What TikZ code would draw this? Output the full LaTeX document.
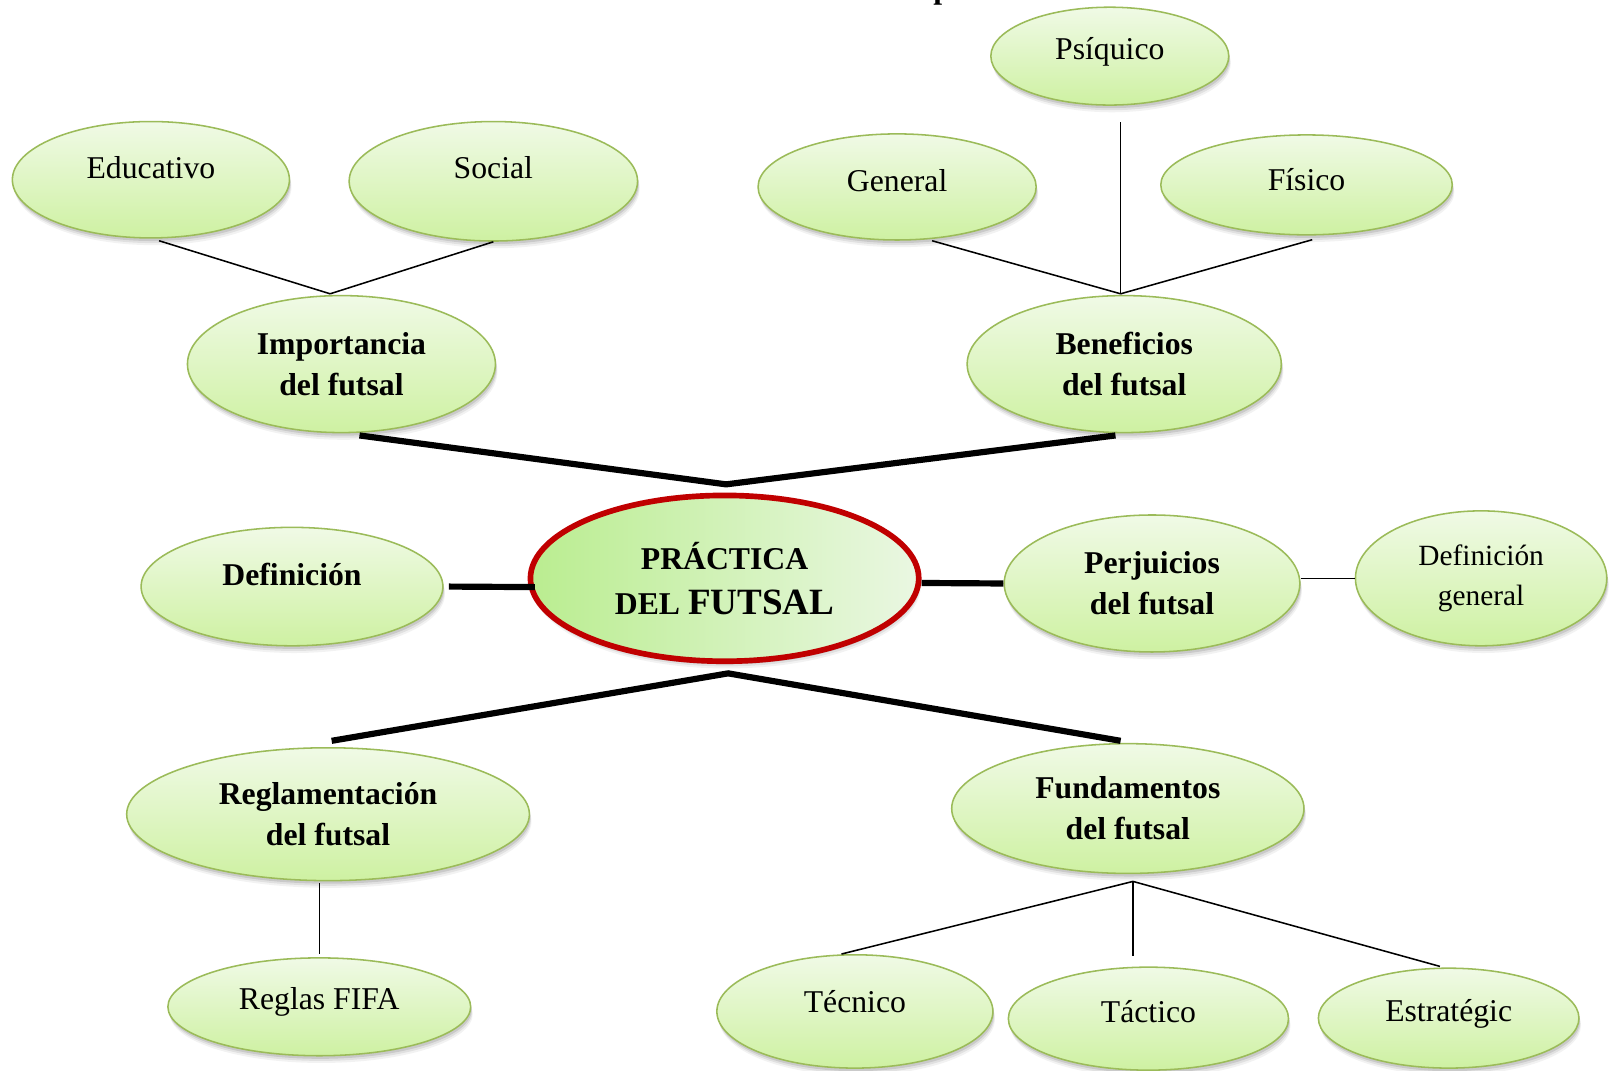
\documentclass[tikz,border=0pt]{standalone}
\usepackage{fontspec}
\setmainfont{Liberation Serif}
\usetikzlibrary{calc,shapes.geometric}

\definecolor{leafTop}{RGB}{240,250,230}
\definecolor{leafBot}{RGB}{206,241,162}
\definecolor{leafLine}{RGB}{155,187,89}
\definecolor{coreLeft}{RGB}{186,237,144}
\definecolor{coreRight}{RGB}{234,247,226}
\definecolor{coreLine}{RGB}{192,0,0}

% raise a one-line label inside its ellipse without changing the box size
\newcommand\liftby[2]{\raisebox{#1pt}[\height][\depth]{#2}}

\tikzset{
  softshadow/.style={
    preaction={fill=black,opacity=0.10,transform canvas={xshift=1pt,yshift=-3pt}},
    preaction={fill=black,opacity=0.07,transform canvas={xshift=1.5pt,yshift=-5pt}},
    preaction={fill=black,opacity=0.05,transform canvas={xshift=2pt,yshift=-7pt}}},
  leaf/.style={ellipse,inner sep=0pt,softshadow,draw=leafLine,line width=1.5pt,
    top color=leafTop,bottom color=leafBot,align=center,
    font=\fontsize{30.8}{40}\selectfont},
  branch/.style={leaf,font=\fontsize{30.8}{40}\selectfont\bfseries},
  core/.style={ellipse,inner sep=0pt,softshadow,draw=coreLine,line width=5.5pt,
    left color=coreLeft,right color=coreRight,align=center,
    font=\fontsize{30.8}{44}\selectfont\bfseries},
  thin/.style={draw=black,line width=1.5pt},
  thick/.style={draw=black,line width=6pt}
}

\begin{document}
\begin{tikzpicture}[x=1pt,y=-1pt]
\useasboundingbox (0,0) rectangle (1568,1039);
\clip (0,0) rectangle (1568,1039);
\fill[white] (0,0) rectangle (1568,1039);

% heading line above the chart (only its descender lies inside the frame)
\node[anchor=base west,inner sep=0pt,font=\fontsize{30.8}{40}\selectfont\bfseries] (head) at (906,-1) {p};

% central idea
\node[core,minimum width=377pt,minimum height=161pt] (pr) at (703.5,561.5)
  {PRÁCTICA\\DEL {\fontsize{36}{44}\selectfont FUTSAL}};

% main branches
\node[branch,minimum width=299pt,minimum height=133pt] (imp) at (331.5,353.5) {Importancia\\del futsal};
\node[branch,minimum width=305pt,minimum height=133pt] (ben) at (1091.5,353.5) {Beneficios\\del futsal};
\node[branch,minimum width=293pt,minimum height=115pt] (def) at (283.5,569.5) {\liftby{12}{Definición}};
\node[branch,minimum width=287pt,minimum height=133pt] (per) at (1118.5,566.5) {Perjuicios\\del futsal};
\node[branch,minimum width=391pt,minimum height=129pt] (reg) at (318.5,790.5) {Reglamentación\\del futsal};
\node[branch,minimum width=342pt,minimum height=126pt] (fun) at (1095,785) {Fundamentos\\del futsal};

% sub-topics
\node[leaf,minimum width=269pt,minimum height=113pt] (edu) at (146.5,174.5) {\liftby{12}{Educativo}};
\node[leaf,minimum width=280pt,minimum height=116pt] (soc) at (479,176) {\liftby{13}{Social}};
\node[leaf,minimum width=231pt,minimum height=95pt] (psi) at (1077.5,54.5) {\liftby{4}{Psíquico}};
\node[leaf,minimum width=270pt,minimum height=103pt] (gen) at (871,181.5) {\liftby{6}{General}};
\node[leaf,minimum width=283pt,minimum height=97pt] (fis) at (1268.5,179.5) {\liftby{5}{Físico}};
\node[leaf,minimum width=244pt,minimum height=131pt,font=\fontsize{28.5}{38}\selectfont] (dg) at (1438,561.5) {Definición\\general};
\node[leaf,minimum width=294pt,minimum height=95pt] (rf) at (310,977.5) {\liftby{5}{Reglas FIFA}};
\node[leaf,minimum width=268pt,minimum height=110pt] (tec) at (830,982) {\liftby{10}{Técnico}};
\node[leaf,minimum width=272pt,minimum height=100pt] (tac) at (1115,989) {\liftby{7}{Táctico}};
\node[leaf,minimum width=253pt,minimum height=97pt] (est) at (1406.5,988.5) {\liftby{4}{Estratégic}};

% junction points
\coordinate (impTop) at ($(imp.north)+(-11,-1)$);
\coordinate (benTop) at ($(ben.north)+(-3.5,-1)$);
\coordinate (prTop) at ($(pr.north)+(1.5,-8)$);
\coordinate (prBot) at ($(pr.south)+(3.5,9)$);
\coordinate (funBot) at ($(fun.south)+(5,7)$);

% thin connectors
\draw[thin] ($(edu.south)+(8,2)$) -- (impTop);
\draw[thin] (soc.south) -- (impTop);
\draw[thin] ($(gen.south)+(34,0)$) -- (benTop);
\draw[thin] ($(psi.south)+(10.5,16)$) -- (benTop);
\draw[thin] ($(fis.south)+(5.5,4)$) -- (benTop);
\draw[thin] (per.east |- dg.west) -- (dg.west);
\draw[thin] ($(reg.south -| rf.north)+(0,2)$) -- ($(rf.north)+(0,-3)$);
\draw[thin] (funBot) -- ($(tec.north)+(-13,0)$);
\draw[thin] (funBot) -- ($(tac.north)+(-15,-10)$);
\draw[thin] (funBot) -- ($(est.north)+(-8.5,-1)$);

% thick connectors to the central idea
\draw[thick] ($(imp.south)+(17.5,2)$) -- (prTop) -- ($(ben.south)+(-8.5,2)$);
\draw[thick] ($(def.east)+(5,0)$) -- ($(pr.west)+(7,8.5)$);
\draw[thick] ($(pr.east)+(0,4.5)$) -- (per.west);
\draw[thick] ($(reg.north)+(3.5,-6)$) -- (prBot) -- ($(fun.north)+(-7,-2)$);
\end{tikzpicture}
\end{document}
